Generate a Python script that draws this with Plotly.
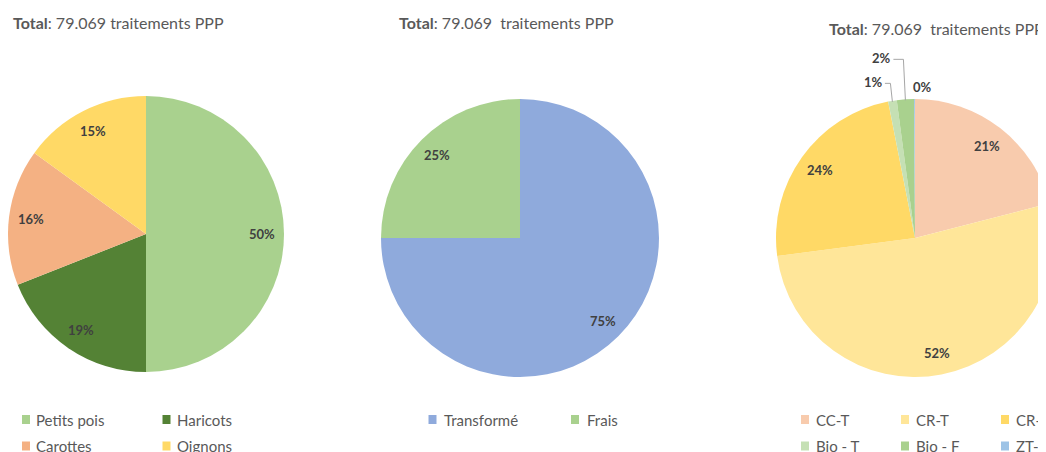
import math
import plotly.graph_objects as go

W, H = 1046, 452
OFF = 8  # the page's default body margin shifts the figure by this many px

# ---------------- data ----------------
total_value = "79.069"
total_unit = "traitements PPP"

crops = ["Petits pois", "Haricots", "Carottes", "Oignons"]
crops_pct = [50, 19, 16, 15]
crops_colors = ["#A9D18E", "#548235", "#F4B183", "#FFD966"]

usage = ["Transformé", "Frais"]
usage_pct = [75, 25]
usage_colors = ["#8FAADC", "#A9D18E"]

systems = ["CC-T", "CR-T", "CR-F", "Bio - T", "Bio - F", "ZT-F"]
systems_pct = [21, 52, 24, 1, 2, 0.1]
systems_colors = ["#F8CBAD", "#FFE699", "#FFD966", "#C5E0B4", "#A9D18E", "#9DC3E6"]

# ---------------- style / layout (screen pixels) ----------------
FONT = "Lato"
TXT_GREY = "#595959"
LBL_DARK = "#404040"
TITLE_SIZE = 16
LEG_SIZE = 15
LBL_SIZE = 13

charts = [
    dict(labels=crops, values=crops_pct, colors=crops_colors,
         cx=146, cy=234, r=138,
         title_xy=(11, 23), title_sep=" ",
         leg_x0=26, leg_text_dx=8, leg_col=140.5, leg_ncol=2),
    dict(labels=usage, values=usage_pct, colors=usage_colors,
         cx=520, cy=238, r=139,
         title_xy=(397, 23), title_sep="\u00a0 ",
         leg_x0=432.5, leg_text_dx=9.5, leg_col=142.5, leg_ncol=2),
    dict(labels=systems, values=systems_pct, colors=systems_colors,
         cx=915, cy=238, r=139,
         title_xy=(827, 28.5), title_sep="\u00a0 ",
         leg_x0=805, leg_text_dx=8.5, leg_col=100, leg_ncol=3),
]
LEG_ROW_Y = [419.5, 446]
SW_W, SW_H = 8, 9   # swatch size px
LBL_K = 0.84        # label radius fraction
SMALL_PCT = 3       # slices below this get outside labels
# outside label offsets relative to the slice's edge point (px)
small_offsets = {"Bio - T": (-19, -18.5), "Bio - F": (-23.5, -41), "ZT-F": (8, -12)}
leader = {"Bio - T": True, "Bio - F": True, "ZT-F": False}


def px(x):
    return (x - OFF) / W


def py(y):
    return 1 - (y - OFF) / H


fig = go.Figure()
annotations = []
shapes = []

for ch in charts:
    cx, cy, r = ch["cx"], ch["cy"], ch["r"]
    fig.add_trace(go.Pie(
        labels=ch["labels"], values=ch["values"],
        marker=dict(colors=ch["colors"], line=dict(width=0)),
        sort=False, direction="clockwise", rotation=0,
        textinfo="none", hoverinfo="label+percent",
        showlegend=False,
        domain=dict(x=[max(0, px(cx - r)), min(1, px(cx + r))],
                    y=[max(0, py(cy + r)), min(1, py(cy - r))]),
    ))

    # title
    tx, ty = ch["title_xy"]
    annotations.append(dict(
        text="<b>Total</b>: " + total_value + ch["title_sep"] + total_unit,
        x=px(tx), y=py(ty), xref="paper", yref="paper",
        xanchor="left", yanchor="middle", showarrow=False,
        font=dict(family=FONT, size=TITLE_SIZE, color=TXT_GREY)))

    # data labels
    tot = sum(ch["values"])
    cum = 0.0
    for lab, v in zip(ch["labels"], ch["values"]):
        mid = (cum + v / 2) / tot * 2 * math.pi
        cum += v
        pct = f"{round(v / tot * 100):.0f}%"
        if v / tot * 100 >= SMALL_PCT:
            lx = cx + LBL_K * r * math.sin(mid)
            ly = cy - LBL_K * r * math.cos(mid)
        else:
            ex = cx + r * math.sin(mid)
            ey = cy - r * math.cos(mid)
            dx, dy = small_offsets[lab]
            lx, ly = ex + dx, ey + dy
            if leader[lab]:
                sx = lx + 11.5
                kx = ex - 2
                shapes.append(dict(
                    type="path", xref="paper", yref="paper",
                    path=f"M{px(sx)},{py(ly + 1)} L{px(kx)},{py(ly + 1)} L{px(ex)},{py(ey + 1)}",
                    line=dict(color="#A6A6A6", width=1)))
        annotations.append(dict(
            text=f"<b>{pct}</b>", x=px(lx), y=py(ly), xref="paper", yref="paper",
            xanchor="center", yanchor="middle", showarrow=False,
            font=dict(family=FONT, size=LBL_SIZE, color=LBL_DARK)))

    # legend (swatch + text)
    for i, (lab, col) in enumerate(zip(ch["labels"], ch["colors"])):
        row, c = divmod(i, ch["leg_ncol"])
        sxc = ch["leg_x0"] + c * ch["leg_col"]
        syc = LEG_ROW_Y[row]
        shapes.append(dict(
            type="rect", xref="paper", yref="paper",
            x0=px(sxc - SW_W / 2), x1=px(sxc + SW_W / 2),
            y0=py(syc + SW_H / 2), y1=py(syc - SW_H / 2),
            fillcolor=col, line=dict(width=0)))
        annotations.append(dict(
            text=lab, x=px(sxc + ch["leg_text_dx"]), y=py(syc),
            xref="paper", yref="paper", xanchor="left", yanchor="middle",
            showarrow=False, font=dict(family=FONT, size=LEG_SIZE, color=TXT_GREY)))

fig.update_layout(
    width=W, height=H,
    margin=dict(l=0, r=0, t=0, b=0),
    paper_bgcolor="white", plot_bgcolor="white",
    showlegend=False,
    annotations=annotations, shapes=shapes,
)

fig.write_html("out.html")
